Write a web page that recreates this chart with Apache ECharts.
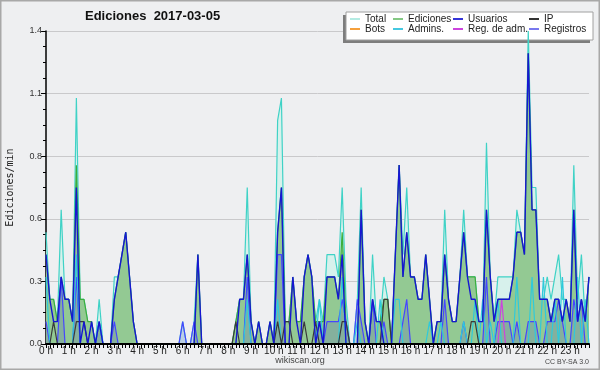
<!DOCTYPE html>
<html>
<head>
<meta charset="utf-8">
<script src="https://cdn.jsdelivr.net/npm/echarts@6/dist/echarts.min.js"></script>
<style>
html,body{margin:0;padding:0;background:#eeeff1;}
#c{width:600px;height:370px;}
</style>
</head>
<body>
<div id="c"></div>
<script>
// 10-minute bins over the day, values in edits per minute
const hourLabels = ['0 h','1 h','2 h','3 h','4 h','5 h','6 h','7 h','8 h','9 h','10 h','11 h',
  '12 h','13 h','14 h','15 h','16 h','17 h','18 h','19 h','20 h','21 h','22 h','23 h'];
const yTicks = [0, 0.28, 0.56, 0.84, 1.12, 1.4];

const total = [
 .5,.2,.2,.1,.6,.2,  .2,.1,1.1,.2,.2,.1,  .1,0,.2,0,0,0,  .3,.3,.4,.5,.3,.1,
 0,0,0,0,0,0,  0,0,0,0,0,0,  .1,0,0,.1,.4,0,  0,0,0,0,0,0,
 0,0,.1,.2,.2,.7,  .1,0,.1,0,0,.1,  0,1.0,1.1,.1,.1,.3,  .1,.1,.3,.4,.3,.1,
 .2,.1,.4,.4,.4,.3,  .7,.2,0,0,.2,.7,  .1,0,.4,.1,.1,.3,  .2,0,.4,.8,.4,.7,
 .3,.3,.2,.2,.4,.2,  0,.1,.1,.6,.2,.1,  .1,.3,.6,.3,.3,.3,  .1,.1,.9,.3,.1,.3,
 .3,.3,.3,.3,.6,.5,  .4,1.4,.7,.7,.2,.2,  .3,.2,.3,.4,.2,.2,  .1,.8,.2,.4,.1,.3
];
const ediciones = [
 .4,.2,.2,.1,.3,.2,  .2,.1,.8,.2,.2,.1,  .1,0,.1,0,0,0,  .2,.3,.4,.5,.3,.1,
 0,0,0,0,0,0,  0,0,0,0,0,0,  0,0,0,0,.4,0,  0,0,0,0,0,0,
 0,0,.1,.2,.2,.4,  .1,0,.1,0,0,.1,  0,.5,.7,.1,.1,.3,  .1,.1,.3,.4,.3,.1,
 .1,.1,.3,.3,.3,.2,  .5,.1,0,0,0,.6,  .1,0,.2,.1,.1,.2,  .2,0,.4,.8,.3,.5,
 .3,.3,.2,.2,.4,.2,  0,.1,.1,.4,.2,.1,  .1,.3,.5,.3,.3,.3,  .1,.1,.6,.3,.1,.2,
 .2,.2,.2,.3,.5,.5,  .4,1.3,.6,.6,.2,.2,  .2,.1,.2,.2,.1,.2,  .1,.6,.1,.2,.1,.3
];
const usuarios = [
 .4,.2,.1,.1,.3,.2,  .2,.1,.7,0,.1,0,  .1,0,.1,0,0,0,  .2,.3,.4,.5,.3,.1,
 0,0,0,0,0,0,  0,0,0,0,0,0,  0,0,0,0,.4,0,  0,0,0,0,0,0,
 0,0,0,.2,.2,.4,  .1,0,.1,0,0,.1,  0,.5,.7,0,0,.3,  .1,0,.3,.4,.3,0,
 .1,0,.3,.3,.3,.2,  .4,0,0,0,0,.6,  .1,0,.2,.1,.1,0,  0,0,.4,.8,.3,.5,
 .3,.3,.2,.2,.4,.2,  0,.1,.1,.4,.2,.1,  .1,.3,.5,.3,.2,.2,  .1,.1,.6,.3,.1,.2,
 .2,.2,.2,.3,.5,.5,  .4,1.3,.6,.6,.2,.2,  .2,.1,.2,.2,.1,.2,  .1,.6,.1,.2,.1,.3
];
const ip = [
 0,0,.1,0,0,0,  0,0,.1,.1,.1,0,  0,0,0,0,0,0,  0,0,0,0,0,0,
 0,0,0,0,0,0,  0,0,0,0,0,0,  0,0,0,0,0,0,  0,0,0,0,0,0,
 0,0,.1,0,0,0,  0,0,0,0,0,0,  0,.1,0,.1,.1,0,  0,0,.1,0,0,.1,
 0,0,0,0,0,0,  .1,.1,0,0,0,0,  0,0,0,0,0,.2,  .2,0,0,0,0,0,
 0,0,0,0,0,0,  0,0,0,0,0,0,  0,0,0,0,.1,.1,  0,0,0,0,0,0,
 0,0,0,0,0,0,  0,0,0,0,0,0,  0,0,0,0,0,0,  0,0,0,0,0,0
];
const bots = [
 0,0,0,0,0,0,  0,0,0,0,0,0,  0,0,0,0,0,0,  0,0,0,0,0,0,
 0,0,0,0,0,0,  0,0,0,0,0,0,  0,0,0,0,0,0,  0,0,0,0,0,0,
 0,0,0,0,0,0,  0,0,0,0,0,0,  0,0,0,0,0,0,  0,0,0,0,0,0,
 0,0,0,0,0,0,  0,0,0,0,0,0,  0,0,0,0,0,0,  0,0,0,0,0,0,
 0,0,0,0,0,0,  0,0,0,0,0,0,  0,0,0,0,0,0,  0,0,0,0,0,0,
 0,0,0,0,0,0,  0,0,0,0,0,0,  0,0,0,0,0,0,  0,0,0,0,0,0
];
const admins = [
 .3,0,0,0,0,0,  0,0,.4,0,0,0,  0,0,.1,0,0,0,  0,0,0,0,0,0,
 0,0,0,0,0,0,  0,0,0,0,0,0,  0,0,0,0,0,0,  0,0,0,0,0,0,
 0,0,0,0,0,.2,  0,0,0,0,0,0,  0,.2,0,0,0,0,  0,0,0,0,0,0,
 .2,0,0,0,0,0,  .3,0,0,0,.1,0,  0,0,0,0,.2,0,  0,0,.2,.2,0,0,
 0,0,0,0,0,.1,  0,0,.1,0,0,0,  0,0,.1,0,0,.2,  0,.2,0,.1,0,.2,
 0,0,0,0,.3,0,  0,0,.3,0,0,.3,  0,0,.2,0,.3,0,  0,0,.3,0,.2,0
];
const regAdm = [
 0,0,0,0,0,0,  0,0,0,0,0,0,  0,0,0,0,0,0,  0,0,0,0,0,0,
 0,0,0,0,0,0,  0,0,0,0,0,0,  0,0,0,0,0,0,  0,0,0,0,0,0,
 0,0,0,0,0,0,  0,0,0,0,0,0,  0,0,0,0,0,0,  0,0,0,0,0,0,
 0,0,0,0,0,0,  0,0,0,0,0,0,  0,0,0,0,0,0,  0,0,0,0,0,0,
 0,0,0,0,0,0,  0,0,0,0,0,0,  0,0,0,0,0,0,  0,0,0,0,0,0,
 .2,0,0,0,0,0,  0,0,0,0,0,0,  0,0,0,0,0,0,  0,0,0,0,0,0
];
const registros = [
 .1,0,0,0,.3,0,  0,0,.3,0,0,0,  0,0,.1,0,0,0,  .1,0,0,0,0,0,
 0,0,0,0,0,0,  0,0,0,0,0,0,  .1,0,0,.1,0,0,  0,0,0,0,0,0,
 0,0,0,0,0,.3,  0,0,0,0,0,0,  0,.4,.4,0,0,0,  0,0,0,0,0,0,
 .1,0,.1,.1,.1,.1,  .2,.1,0,0,.2,.1,  0,0,.2,0,0,.1,  0,0,0,0,.1,.2,
 0,0,0,0,0,0,  0,0,0,.2,0,0,  0,0,.1,0,0,0,  0,0,.3,0,0,.1,
 .1,.1,.1,0,.1,0,  0,.1,.1,.1,0,0,  .1,.1,.1,.2,.1,0,  0,.2,.1,.2,0,0
];

const times = [];
for (let h = 0; h < 24; h++) for (let m = 0; m < 60; m += 10)
  times.push((h < 10 ? '0' : '') + h + ':' + (m === 0 ? '00' : m));

const FONT = 'Liberation Sans';
const chart = echarts.init(document.getElementById('c'), null, {renderer: 'canvas'});

function lineSeries(name, data, color, width, z, area) {
  const s = {
    name, type: 'line', data, showSymbol: false, symbol: 'none', z,
    animation: false, silent: true,
    lineStyle: {color, width},
    itemStyle: {color}
  };
  if (area) s.areaStyle = {color: area, opacity: 1};
  return s;
}

function colLegend(left, items) {
  return {
    left, top: 14, orient: 'vertical', itemGap: 0, padding: 0,
    itemWidth: 10, itemHeight: 2, icon: 'rect', selectedMode: false,
    textStyle: {fontFamily: FONT, fontSize: 10, color: '#222', lineHeight: 10, padding: [0,0,0,0]},
    data: items.map(([name, color]) => ({name, itemStyle: {color}}))
  };
}

chart.setOption({
  backgroundColor: '#eeeff1',
  animation: false,
  title: {
    text: 'Ediciones  2017-03-05', left: 80, top: 5,
    textStyle: {fontFamily: FONT, fontSize: 13, fontWeight: 'bold', color: '#111'}
  },
  legend: [
    colLegend(350, [['Total', '#b4ebe3'], ['Bots', '#f5a03c']]),
    colLegend(393, [['Ediciones', '#84c884'], ['Admins.', '#45c8e0']]),
    colLegend(453, [['Usuarios', '#3535d8'], ['Reg. de adm.', '#cc44dd']]),
    colLegend(529, [['IP', '#333333'], ['Registros', '#7878ee']])
  ],
  grid: {left: 46, right: 11, top: 31, bottom: 26, containLabel: false, outerBoundsMode: 'none'},
  xAxis: {
    type: 'category', data: times, boundaryGap: false, z: 10,
    axisLine: {lineStyle: {color: '#000', width: 2}},
    axisTick: {show: true, interval: 0, length: 4, lineStyle: {color: '#000', width: 1}},
    axisLabel: {
      interval: 5, margin: 2, fontFamily: FONT, fontSize: 10, color: '#222',
      formatter: (v, idx) => hourLabels[Math.round(idx / 6)]
    },
    splitLine: {show: false}
  },
  yAxis: {
    type: 'value', min: yTicks[0], max: yTicks[yTicks.length - 1], interval: yTicks[1],
    name: 'Ediciones/min', nameLocation: 'middle', nameGap: 31,
    nameTextStyle: {fontFamily: 'DejaVu Sans Mono', fontSize: 10, color: '#222'},
    axisLine: {show: true, lineStyle: {color: '#000', width: 1.5}},
    axisTick: {show: true, length: 5, lineStyle: {color: '#000'}},
    minorTick: {show: true, splitNumber: 4, length: 3, lineStyle: {color: '#000'}},
    axisLabel: {fontFamily: FONT, fontSize: 9, color: '#333', margin: 4,
      formatter: v => v.toFixed(1)},
    splitLine: {show: true, lineStyle: {color: '#c9c9cb', width: 1}}
  },
  graphic: [
    {type: 'rect', z: 1, shape: {x: 343, y: 15, width: 247, height: 28}, style: {fill: '#7d7d7d'}},
    {type: 'rect', z: 1, shape: {x: 346, y: 12, width: 247, height: 28}, style: {fill: '#ffffff', stroke: '#a0a0a0', lineWidth: 1}},
    {type: 'text', z: 5, x: 300, y: 361, style: {text: 'wikiscan.org', fontFamily: FONT, fontSize: 9, fill: '#444', textAlign: 'center', textVerticalAlign: 'middle'}},
    {type: 'text', z: 5, x: 589, y: 362, style: {text: 'CC BY-SA 3.0', fontFamily: FONT, fontSize: 7, fill: '#444', textAlign: 'right', textVerticalAlign: 'middle'}},
    {type: 'rect', z: 20, shape: {x: 0.75, y: 0.75, width: 598.5, height: 368.5}, style: {fill: 'none', stroke: '#a8a8a8', lineWidth: 1.5}}
  ],
  series: [
    lineSeries('Total', total, '#3fd2c6', 1.2, 2, '#d7f1ec'),
    lineSeries('Ediciones', ediciones, '#3cae3c', 1.2, 3, '#93c993'),
    lineSeries('Registros', registros, '#4646ff', 1.2, 4, 'rgba(80,80,200,0.2)'),
    lineSeries('Admins.', admins, '#2fcadb', 1.2, 5),
    lineSeries('Bots', bots, '#f5a03c', 1, 5),
    lineSeries('Reg. de adm.', regAdm, '#cc44dd', 1.2, 5),
    lineSeries('IP', ip, '#3a3a3a', 1.2, 6),
    lineSeries('Usuarios', usuarios, '#1616d2', 1.4, 7)
  ]
});
</script>
</body>
</html>
